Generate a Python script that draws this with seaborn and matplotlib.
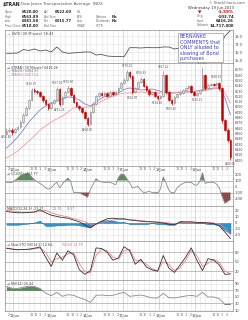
import numpy as np
import pandas as pd
import matplotlib
matplotlib.use("Agg")
import matplotlib.pyplot as plt
import seaborn as sns
from matplotlib.patches import Rectangle
from matplotlib.lines import Line2D

# ---------------- data ----------------
opens = [6450, 6455, 6457, 6453, 6458, 6462, 6472, 6485, 6498, 6513, 6532, 6530, 6528, 6521, 6513, 6506,
         6498, 6508, 6513, 6534, 6506, 6519, 6528, 6536, 6523, 6510, 6502, 6498, 6491, 6479, 6468, 6491,
         6506, 6521, 6526, 6523, 6526, 6521, 6528, 6524, 6528, 6536, 6545, 6551, 6566, 6558, 6528, 6536,
         6547, 6553, 6540, 6532, 6524, 6528, 6521, 6517, 6521, 6560, 6528, 6513, 6508, 6519, 6524, 6526,
         6532, 6536, 6540, 6528, 6523, 6526, 6532, 6560, 6536, 6541, 6543, 6541, 6545, 6536, 6475, 6457, 6438]
closes = [6455, 6457, 6453, 6458, 6462, 6472, 6485, 6498, 6513, 6532, 6530, 6528, 6521, 6513, 6506, 6498,
          6508, 6513, 6534, 6506, 6519, 6528, 6536, 6523, 6510, 6502, 6498, 6491, 6479, 6468, 6491, 6506,
          6521, 6526, 6523, 6526, 6521, 6528, 6524, 6528, 6536, 6545, 6551, 6566, 6558, 6528, 6536, 6547,
          6553, 6540, 6532, 6524, 6528, 6521, 6517, 6521, 6560, 6528, 6513, 6508, 6519, 6524, 6526, 6532,
          6536, 6540, 6528, 6523, 6526, 6532, 6560, 6536, 6541, 6543, 6541, 6545, 6536, 6475, 6457, 6438, 6406]
highs = [6460, 6461, 6460, 6461, 6465, 6475, 6488, 6501, 6516, 6536, 6535, 6533, 6530, 6523, 6515, 6508,
         6510, 6516, 6537, 6536, 6521, 6530, 6539, 6538, 6525, 6512, 6504, 6500, 6493, 6481, 6493, 6508,
         6523, 6529, 6528, 6528, 6528, 6530, 6530, 6530, 6538, 6547, 6554, 6570, 6568, 6560, 6538, 6549,
         6556, 6555, 6542, 6534, 6530, 6530, 6523, 6523, 6567, 6562, 6530, 6515, 6521, 6526, 6529, 6534,
         6538, 6542, 6542, 6530, 6528, 6534, 6575, 6563, 6543, 6546, 6545, 6548, 6547, 6538, 6478, 6460, 6440]
lows = [6449, 6452, 6448, 6451, 6456, 6460, 6470, 6483, 6496, 6511, 6527, 6525, 6519, 6510, 6503, 6494,
        6496, 6505, 6511, 6501, 6504, 6517, 6526, 6520, 6508, 6500, 6495, 6488, 6477, 6464, 6466, 6489,
        6504, 6519, 6521, 6521, 6518, 6519, 6521, 6522, 6526, 6534, 6543, 6549, 6555, 6524, 6526, 6534,
        6545, 6537, 6530, 6521, 6522, 6519, 6514, 6515, 6519, 6525, 6511, 6503, 6506, 6517, 6522, 6524,
        6530, 6534, 6526, 6521, 6520, 6524, 6530, 6533, 6534, 6539, 6539, 6539, 6533, 6470, 6454, 6434, 6400]

# moving averages (every second bar)
ma_blue = [6422.6, 6432.1, 6443.4, 6456.6, 6471.7, 6483.0, 6494.4, 6501.9, 6507.6, 6511.3, 6515.1, 6518.9,
           6518.0, 6513.2, 6505.7, 6501.9, 6509.4, 6517.0, 6520.8, 6523.6, 6526.4, 6533.0, 6535.9, 6534.0,
           6532.1, 6533.0, 6534.0, 6531.1, 6528.3, 6526.4, 6526.4, 6528.3, 6528.3, 6528.3, 6530.2, 6532.1,
           6534.0, 6535.9, 6535.9, 6517.0, 6484.9]
ma_red = [6403.8, 6409.4, 6417.0, 6426.4, 6435.9, 6445.3, 6456.6, 6464.2, 6471.7, 6477.4, 6483.0, 6490.6,
          6498.1, 6499.0, 6500.0, 6500.0, 6505.7, 6511.3, 6516.0, 6520.8, 6523.6, 6526.4, 6526.4, 6527.4,
          6528.3, 6527.4, 6526.4, 6526.4, 6526.4, 6526.4, 6526.4, 6527.4, 6528.3, 6529.2, 6530.2, 6531.1,
          6532.1, 6534.0, 6535.9, 6526.4, 6507.6]

# top panel line (every second bar)
top_line = [15.84, 15.84, 15.88, 16.31, 16.19, 16.38, 16.13, 16.25, 16.0, 16.63, 16.0, 15.84, 15.88, 15.94,
            16.0, 16.0, 15.63, 15.69, 15.5, 15.44, 15.44, 15.41, 16.54, 16.54, 16.5, 16.56, 16.54, 16.54,
            16.63, 16.63, 16.38, 16.5, 16.38, 16.44, 16.38, 16.56, 16.44, 16.38, 16.44, 18.0, 18.69]

# CCI (every bar)
cci = [70, 68, 67, 100, 140, 180, 205, 215, 215, 160, 110, 80, 50, 20, -20, -45, -20, 30, 70, -20, 40, 100,
       140, 80, -100, -100, -105, -130, -150, -180, -50, 40, 130, 90, 75, 70, 70, 70, 50, 30, 150, 210, 200,
       130, 60, -25, -10, 0, -60, -100, -95, -80, -100, -110, -115, -40, 160, 60, -60, -110, -100, -20, 20,
       50, 70, 70, 70, 30, 20, 80, 230, 50, 70, 70, 70, 40, -20, -160, -280, -250, -215]

# MACD (every second bar)
macd = [19, 18, 17, 17, 17.5, 18.5, 22, 17, 13, 11, 9, 8, 5, 2, -3, -8, -2, 3, 7, 8, 7, 7, 5, 4, 3, 2, 2, 1,
        0, -2, -3, 2, 2, 2, 1, 1, 0, -1, -5, -15, -26]
signal = [21, 20, 19, 18, 18, 18, 19, 21, 17, 14, 12, 10, 7, 5, 2, -2, -2, 0, 3, 5, 6, 6, 6, 5, 4, 3, 2, 2,
          1, 0, -1, 0, 1, 1, 1, 1, 1, 0, -2, -8, -19]
hist = [-3, -3, -3, -2, -1, 1, 4, -5, -5, -4, -4, -3, -3, -4, -6, -7, 0, 4, 5, 4, 2, 2, -2, -2, -2, -2, 0,
        -2, -2, -3, -3, 3, 2, 2, 0, 0, -2, -2, -4, -12, -18]

# Slow stochastic (every second bar)
sto_k = [93, 90, 88, 89, 90, 93, 97, 65, 35, 78, 55, 85, 72, 25, 10, 22, 94, 92, 80, 55, 62, 98, 85, 42, 58,
         33, 24, 20, 70, 30, 16, 40, 65, 94, 55, 22, 60, 55, 40, 10, 11]
sto_d = [94, 91, 89, 89, 89, 91, 94, 80, 50, 60, 65, 75, 78, 45, 18, 15, 70, 90, 85, 65, 58, 85, 90, 55, 52,
         42, 28, 22, 50, 42, 22, 30, 55, 85, 70, 35, 45, 58, 48, 20, 12]

# RSI (every second bar)
rsi = [82, 77, 76, 80, 83, 82, 76, 62, 54, 64, 52, 57, 55, 48, 42, 33, 55, 56, 54, 55, 60, 64, 52, 54, 56, 52,
       47, 47, 61, 48, 47, 50, 53, 55, 52, 64, 50, 50, 45, 27, 28]

day_labels = ["12Jun", "13Jun", "14Jun", "17Jun", "18Jun", "19Jun"]
day_starts = [3, 16, 29, 42, 55, 68]
hour_labels = ["11", "12", "1", "2"]
price_ticks = [6400, 6410, 6420, 6430, 6440, 6450, 6460, 6470, 6480, 6490, 6500, 6510, 6520, 6530, 6540,
               6550, 6560, 6570]
price_notes = [(0, 6451.40, "6451.40", -1), (9, 6536.35, "6536.35", 1), (18, 6537.04, "6537.04", 1),
               (22, 6539.60, "6539.60", 1), (19, 6501.26, "6491.26", -1), (29, 6464.05, "6464.05", -1),
               (43, 6570.12, "6570.12", 1), (45, 6524.30, "6524.30", -1), (48, 6556.61, "6556.61", 1),
               (54, 6514.40, "6514.40", -1), (59, 6503.45, "6503.45", -1), (56, 6567.22, "6567.22", 1),
               (68, 6520.11, "6520.11", -1), (70, 6575.40, "6575.40", 1), (75, 6548.10, "6548.10", 1),
               (80, 6400.05, "6400.05", -1)]

# ---------------- figure ----------------
sns.set_theme(style="white")
plt.rcParams['font.family'] = ['DejaVu Sans']
W, H = 248, 320
fig = plt.figure(figsize=(W / 100, H / 100), dpi=100)
fig.patch.set_facecolor("white")

XL, XR = 5, 233
bars = np.arange(len(closes))
even = bars[::2]
XMIN, XMAX = -0.5, 80.9
hour_bars = [1] + [d + h for d in day_starts for h in (1, 3, 5, 7, 9, 11)]
GRID = "#e2e2e2"


def fx(px):
    return px / W


def fy(py):
    return 1 - py / H


def bar_px(b):
    return XL + (b - XMIN) / (XMAX - XMIN) * (XR - XL)


def panel(y0, y1):
    ax = fig.add_axes([fx(XL), fy(y1), (XR - XL) / W, (y1 - y0) / H])
    ax.set_xlim(XMIN, XMAX)
    ax.set_facecolor("white")
    for s in ax.spines.values():
        s.set_color("#8a8a8a")
        s.set_linewidth(0.5)
    for b in hour_bars:
        ax.axvline(b, color=GRID, lw=0.4, zorder=0)
    for d in day_starts:
        ax.axvline(d - 0.5, color="#c8c8c8", lw=0.5, zorder=0)
    ax.set_xticks([])
    ax.yaxis.tick_right()
    ax.tick_params(axis="y", labelsize=2.6, length=0, pad=1.2, colors="#444444")
    ax.set_xlabel("")
    ax.set_ylabel("")
    return ax


def hgrid(ax, vals, color=GRID, lw=0.4):
    for v in vals:
        ax.axhline(v, color=color, lw=lw, zorder=0)


# ---- header ----
fig.text(fx(3), fy(4.5), "$TRAN", fontsize=3.4, weight="bold", color="#222", va="center")
fig.text(fx(21), fy(4.5), "Dow Jones Transportation Average  INDX", fontsize=2.9, color="#555", va="center")
fig.text(fx(245), fy(3.5), "© StockCharts.com", fontsize=2.6, color="#555", va="center", ha="right")
rows = [("Open", "6520.00", "Avl", "6522.60", "Vol", "", ""),
        ("High", "6563.89", "Avl Size", "", "EPS", "Options", "No"),
        ("Low", "6381.58", "Ret", "6315.77", "Last", "Dividends", "No"),
        ("Prev Close", "6518.00", "Bid Size", "", "VWAP", "SCTR", "")]
for k, r in enumerate(rows):
    yy = fy(12 + 4.6 * k)
    fig.text(fx(5), yy, r[0], fontsize=2.2, color="#666", va="center")
    fig.text(fx(22), yy, r[1], fontsize=2.7, color="#222", va="center", weight="bold")
    fig.text(fx(44), yy, r[2], fontsize=2.2, color="#666", va="center")
    fig.text(fx(55), yy, r[3], fontsize=2.7, color="#222", va="center", weight="bold")
    fig.text(fx(77), yy, r[4], fontsize=2.2, color="#666", va="center")
    fig.text(fx(96), yy, r[5], fontsize=2.2, color="#666", va="center")
    fig.text(fx(112), yy, r[6], fontsize=2.6, color="#222", va="center", weight="bold")
fig.text(fx(234), fy(8), "Wednesday 19 Jun 2013", fontsize=2.7, color="#333", va="center", ha="right")
fig.text(fx(200), fy(12), "▼", fontsize=3.2, color="#cc0000", va="center", ha="center")
fig.text(fx(234), fy(12), "-1.59%", fontsize=3.0, color="#cc0000", va="center", ha="right", weight="bold")
for k, (lab, val) in enumerate([("Chg", "-103.74"), ("Last", "6416.26"), ("Volume", "14,717,000")]):
    fig.text(fx(197), fy(16.5 + 4.5 * k), lab, fontsize=2.4, color="#666", va="center")
    fig.text(fx(234), fy(16.5 + 4.5 * k), val, fontsize=2.8, color="#222", va="center", ha="right", weight="bold")

# ---- top panel ----
ax0 = panel(30, 63)
ax0.set_ylim(14.625, 18.75)
t0 = [15.0, 16.0, 17.0, 18.0]
ax0.set_yticks(t0)
ax0.set_yticklabels(["15.0", "16.0", "17.0", "18.0"])
hgrid(ax0, t0)
sns.lineplot(x=even, y=top_line, ax=ax0, color="#555555", linewidth=0.6, legend=False)
ax0.set_xlabel(""); ax0.set_ylabel("")
ax0.text(0.008, 0.96, "— $VIX (30 Minute) 18.43", transform=ax0.transAxes, fontsize=2.6, va="top", color="#444")

# ---- price panel ----
ax1 = panel(63, 166)
ax1.set_ylim(6388.7, 6583.0)
ax1.set_yticks(price_ticks)
ax1.set_yticklabels([str(v) for v in price_ticks])
ax1.tick_params(axis="y", labelsize=2.3)
hgrid(ax1, price_ticks)
for i in bars:
    o, c, h, l = opens[i], closes[i], highs[i], lows[i]
    down = c < o
    col = "#cc0000" if down else "#8c8c8c"
    ax1.vlines(i, l, h, color=col, lw=0.5, zorder=3)
    lo, hi = min(o, c), max(o, c)
    ax1.add_patch(Rectangle((i - 0.3, lo), 0.6, max(hi - lo, 0.8),
                            facecolor=col if down else "#d9d9d9", edgecolor=col, lw=0.4, zorder=4))
sns.lineplot(x=even, y=ma_blue, ax=ax1, color="#8080d0", linewidth=0.6, legend=False)
sns.lineplot(x=even, y=ma_red, ax=ax1, color="#f29a9a", linewidth=0.6, legend=False)
ax1.set_xlabel(""); ax1.set_ylabel("")
for b, p, s, side in price_notes:
    ax1.text(b, p + side * 4, s, fontsize=2.0, color="#555", ha="center",
             va="bottom" if side > 0 else "top", zorder=5)
ax1.text(0.008, 0.975, "⊿ $TRAN (30 Minute) 6416.26", transform=ax1.transAxes, fontsize=2.4, va="top", color="#444")
ax1.text(0.008, 0.94, "— MA(20) 6484.87", transform=ax1.transAxes, fontsize=2.4, va="top", color="#7070c8")
ax1.text(0.008, 0.905, "— MA(50) 6507.61", transform=ax1.transAxes, fontsize=2.4, va="top", color="#e07070")

# ---- CCI panel ----
ax2 = panel(166, 206)
ax2.set_ylim(-325, 342)
ax2.set_yticks([200, 100, 0, -100, -200])
ax2.set_yticklabels(["200", "100", "0", "-100", "-200"])
hgrid(ax2, [200, 0, -200])
ax2.axhline(100, color="#9a9a9a", lw=0.5, zorder=1)
ax2.axhline(-100, color="#9a9a9a", lw=0.5, zorder=1)
cci_a = np.array(cci, dtype=float)
ax2.fill_between(bars, cci_a, 100, where=cci_a > 100, interpolate=True, color="#5f8a5f", lw=0, zorder=2)
ax2.fill_between(bars, cci_a, -100, where=cci_a < -100, interpolate=True, color="#8f4a4a", lw=0, zorder=2)
sns.lineplot(x=bars, y=cci, ax=ax2, color="#8a8a8a", linewidth=0.6, legend=False)
ax2.set_xlabel(""); ax2.set_ylabel("")
ax2.text(0.008, 0.86, "⊿ CCI(20) -213.77", transform=ax2.transAxes, fontsize=2.4, va="top", color="#444")

# ---- MACD panel ----
ax3 = panel(206, 241)
ax3.set_ylim(-30, 28.3)
ax3.set_yticks([20, 10, 0, -10, -20])
ax3.set_yticklabels(["20", "10", "0", "-10", "-20"])
hgrid(ax3, [20, 10, 0, -10, -20])
ax3.fill_between(even, hist, 0, color="#2c93cc", lw=0.3, edgecolor="#1d6e9e", zorder=2)
sns.lineplot(x=even, y=signal, ax=ax3, color="#f08080", linewidth=0.6, legend=False)
sns.lineplot(x=even, y=macd, ax=ax3, color="#333333", linewidth=0.6, legend=False)
ax3.set_xlabel(""); ax3.set_ylabel("")
ax3.text(0.008, 0.975, "MACD(12,26,9) -23.27,", transform=ax3.transAxes, fontsize=2.3, va="top", color="#444")
ax3.text(0.205, 0.975, "-13.70,", transform=ax3.transAxes, fontsize=2.3, va="top", color="#e06060")
ax3.text(0.27, 0.975, "-9.57", transform=ax3.transAxes, fontsize=2.3, va="top", color="#4a7acc")

# ---- Stochastic panel ----
ax4 = panel(241, 280)
ax4.set_ylim(-8, 116)
ax4.set_yticks([80, 50, 20])
ax4.set_yticklabels(["80", "50", "20"])
hgrid(ax4, [80, 50, 20], color="#a8a8a8", lw=0.5)
sns.lineplot(x=even, y=sto_d, ax=ax4, color="#f08080", linewidth=0.6, legend=False)
sns.lineplot(x=even, y=sto_k, ax=ax4, color="#333333", linewidth=0.6, legend=False)
ax4.set_xlabel(""); ax4.set_ylabel("")
ax4.text(0.008, 0.96, "⊿ Slow STO %K(14,3) 12.64,", transform=ax4.transAxes, fontsize=2.3, va="top", color="#444")
ax4.text(0.25, 0.96, "%D(3) 11.79", transform=ax4.transAxes, fontsize=2.3, va="top", color="#e06060")

# ---- RSI panel ----
ax5 = panel(280, 311)
ax5.set_ylim(7, 102)
ax5.set_yticks([90, 70, 50, 30, 10])
ax5.set_yticklabels(["90", "70", "50", "30", "10"])
hgrid(ax5, [90, 50, 10])
ax5.axhline(70, color="#a8a8a8", lw=0.5, zorder=1)
ax5.axhline(30, color="#a8a8a8", lw=0.5, zorder=1)
rsi_a = np.array(rsi, dtype=float)
ax5.fill_between(even, rsi_a, 70, where=rsi_a > 70, interpolate=True, color="#5f8a5f", lw=0, zorder=2)
ax5.fill_between(even, rsi_a, 30, where=rsi_a < 30, interpolate=True, color="#8f4a4a", lw=0, zorder=2)
sns.lineplot(x=even, y=rsi, ax=ax5, color="#8a8a8a", linewidth=0.6, legend=False)
ax5.set_xlabel(""); ax5.set_ylabel("")
ax5.text(0.008, 0.95, "⊿ RSI(14) 26.44", transform=ax5.transAxes, fontsize=2.3, va="top", color="#444")

# ---- date labels (top of CCI panel and bottom) ----
for ypix in (169.5, 315.5):
    fig.text(fx(bar_px(1)), fy(ypix), "2", fontsize=2.4, color="#555", ha="center", va="center")
    for d, lab in zip(day_starts, day_labels):
        fig.text(fx(bar_px(d)), fy(ypix), lab, fontsize=2.6, color="#444", ha="center", va="center")
        for off, hl in zip((6, 7.5, 9, 10.7), hour_labels):
            fig.text(fx(bar_px(d + off)), fy(ypix), hl, fontsize=2.4, color="#666", ha="center", va="center")

# ---- annotation box ----
fig.patches.append(Rectangle((fx(177.5), fy(62)), (223 - 177.5) / W, (62 - 33) / H,
                             transform=fig.transFigure, facecolor="white", edgecolor="#999999",
                             lw=0.5, zorder=5))
fig.lines.append(Line2D([fx(221), fx(221)], [fy(62), fy(82)], transform=fig.transFigure,
                        color="#999999", lw=0.5, zorder=5))
fig.text(fx(179.5), fy(34.5), "BERNANKE\nCOMMENTS that\nONLY alluded to\nslowing of Bond\npurchases",
         fontsize=3.5, color="#3a3ad0", va="top", ha="left", linespacing=1.12, zorder=6)

fig.savefig("out.png", dpi=100)
